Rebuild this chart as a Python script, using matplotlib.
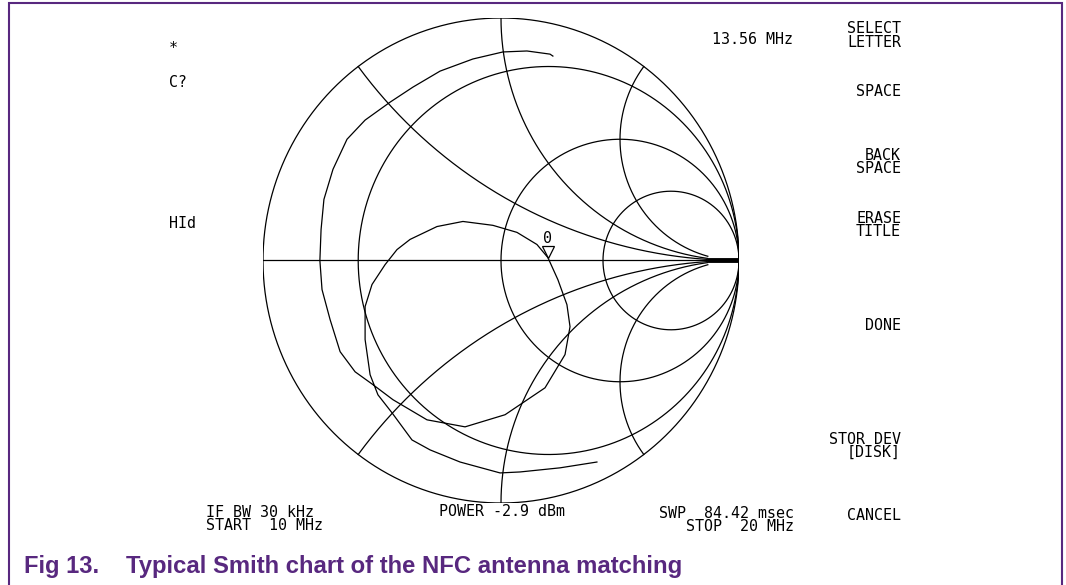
import numpy as np
import matplotlib
matplotlib.use('Agg')
import matplotlib.pyplot as plt
from matplotlib.patches import Rectangle

# Smith chart grid values
r_circles = [0.25, 1.0, 2.5]
x_arcs = [0.5, 1.0, 2.0]
r_arc_end = 14.0  # reactance arcs stop here

# measured trace, reflection coefficient (re, im), 10 MHz -> 20 MHz
trace_re = [0.403, 0.248, 0.080, -0.004, -0.172, -0.298, -0.374, -0.458, -0.517, -0.550,
            -0.571, -0.571,
            -0.542, -0.487, -0.437, -0.382, -0.269, -0.160, -0.034, 0.067, 0.151, 0.197,
            0.239, 0.277, 0.290, 0.269, 0.185, 0.017, -0.151, -0.311, -0.454, -0.538,
            -0.613, -0.676, -0.718, -0.752, -0.761, -0.756, -0.744, -0.706, -0.647, -0.571,
            -0.466, -0.370, -0.256, -0.118, 0.008, 0.109, 0.206, 0.218]
trace_im = [-0.831, -0.855, -0.872, -0.876, -0.831, -0.781, -0.740, -0.628, -0.554, -0.471,
            -0.326, -0.190,
            -0.099, -0.017, 0.045, 0.087, 0.140, 0.161, 0.145, 0.116, 0.066, 0.012,
            -0.079, -0.182, -0.273, -0.388, -0.525, -0.636, -0.686, -0.657, -0.574, -0.512,
            -0.459, -0.376, -0.244, -0.120, 0.000, 0.128, 0.252, 0.376, 0.500, 0.579,
            0.653, 0.715, 0.781, 0.831, 0.860, 0.864, 0.851, 0.843]
marker_re, marker_im = 0.197, 0.0
marker_label = '0'

left_labels = ['*', 'C?', 'HId']
menu_labels = ['SELECT\nLETTER', 'SPACE', 'BACK\nSPACE', 'ERASE\nTITLE',
               'DONE', 'STOR DEV\n[DISK]', 'CANCEL']
freq_label = '13.56 MHz'
bottom_left = 'IF BW 30 kHz\nSTART  10 MHz'
bottom_mid = 'POWER -2.9 dBm'
bottom_right = 'SWP  84.42 msec\nSTOP  20 MHz'
fig_no = 'Fig 13.'
caption = 'Typical Smith chart of the NFC antenna matching'

W, H = 1066, 585
fig = plt.figure(figsize=(W / 100, H / 100), dpi=100)
purple = '#58287f'
mono = 'DejaVu Sans Mono'

# frame
fig.patches.append(Rectangle((8.5 / W, -0.1), 1053 / W, 1.1 - 3.5 / H, transform=fig.transFigure,
                             fill=False, edgecolor=purple, linewidth=1.5))

# smith chart axes, pixel box of the outer circle
ax = fig.add_axes([263 / W, (H - 503) / H, 476 / W, 485 / H])
ax.set_xlim(-1, 1)
ax.set_ylim(-1, 1)
ax.axis('off')
lw = 0.9
t = np.linspace(0, 2 * np.pi, 600)
ax.plot(np.cos(t), np.sin(t), color='black', lw=lw)
for r in r_circles:
    c, rad = r / (1 + r), 1 / (1 + r)
    ax.plot(c + rad * np.cos(t), rad * np.sin(t), color='black', lw=lw)
for xv in x_arcs:
    rr = np.concatenate([np.linspace(0, 1, 200), np.linspace(1, r_arc_end, 400)])
    for s in (1, -1):
        z = rr + 1j * s * xv
        g = (z - 1) / (z + 1)
        ax.plot(g.real, g.imag, color='black', lw=lw)
g_end = (r_arc_end - 1) / (r_arc_end + 1)
ax.plot([-1, 1], [0, 0], color='black', lw=lw)
ax.plot([g_end, 1], [0, 0], color='black', lw=3.5, solid_capstyle='butt')

ax.plot(trace_re, trace_im, color='black', lw=lw)
ax.plot(marker_re, marker_im + 0.035, marker='v', ms=8, mfc='white', mec='black', mew=0.9)
ax.text(marker_re, marker_im + 0.09, marker_label, family=mono, fontsize=10.8,
        ha='center', va='center')

# instrument texts (pixel positions)
def ptext(x, y, s, ha='left', **kw):
    fig.text(x / W, 1 - y / H, s, ha=ha, va='center', family=mono, fontsize=10.8,
             linespacing=0.84, **kw)

for (y, s) in zip([48, 83, 223], left_labels):
    ptext(169, y, s)
for (y, s) in zip([35.5, 92, 162, 225, 326, 446, 516], menu_labels):
    ptext(901, y, s, ha='right', multialignment='right')
ptext(793, 40, freq_label, ha='right')
ptext(206, 519, bottom_left)
ptext(439, 512, bottom_mid)
ptext(794, 520, bottom_right, ha='right', multialignment='right')

fig.text(24 / W, 1 - 567 / H, fig_no, ha='left', va='center', color=purple,
         fontsize=17, fontweight='bold', family='Liberation Sans')
fig.text(126 / W, 1 - 567 / H, caption, ha='left', va='center', color=purple,
         fontsize=17.2, fontweight='bold', family='Liberation Sans')

fig.savefig('out.png', dpi=100)
